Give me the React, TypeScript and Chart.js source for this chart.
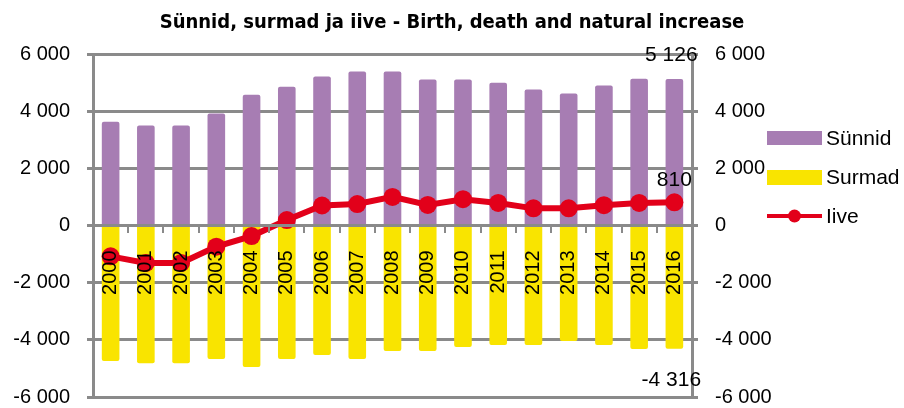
import { useEffect, useRef } from "react";
import { Chart, registerables } from "chart.js";

Chart.register(...registerables);

const years = ["2000", "2001", "2002", "2003", "2004", "2005", "2006", "2007", "2008", "2009", "2010", "2011", "2012", "2013", "2014", "2015", "2016"];
const births = [3630, 3500, 3500, 3920, 4570, 4850, 5210, 5390, 5390, 5110, 5110, 4990, 4760, 4620, 4900, 5130, 5126];
const deaths = [-4740, -4820, -4820, -4670, -4950, -4670, -4530, -4670, -4390, -4390, -4250, -4180, -4180, -4040, -4180, -4320, -4316];
const increase = [-1080, -1310, -1310, -740, -370, 190, 700, 750, 1000, 720, 920, 790, 600, 600, 710, 790, 810];

const seriesNames = ["Sünnid", "Surmad", "Iive"];
const titleText = "Sünnid, surmad ja iive - Birth, death and natural increase";
const axisMin = -6000;
const axisMax = 6000;
const axisStep = 2000;

const PURPLE = "#A77DB3";
const YELLOW = "#F9E400";
const RED = "#E2001A";
const GRID = "#8A8A8A";
const FONT = '"Liberation Sans", Arial, sans-serif';

const fmt = (v: number) => {
  const s = Math.abs(Math.round(v)).toString().replace(/\B(?=(\d{3})+(?!\d))/g, " ");
  return (v < 0 ? "-" : "") + s;
};

const lastLabels = {
  id: "lastLabels",
  afterDatasetsDraw(chart: any) {
    const ctx = chart.ctx;
    const last = years.length - 1;
    const lineEl = chart.getDatasetMeta(0).data[last];
    const bEl = chart.getDatasetMeta(1).data[last];
    const dEl = chart.getDatasetMeta(2).data[last];
    ctx.save();
    ctx.font = "21px " + FONT;
    ctx.fillStyle = "#000";
    ctx.textAlign = "center";
    ctx.textBaseline = "alphabetic";
    ctx.fillText(fmt(births[last]), bEl.x - 3, bEl.y - 18);
    ctx.fillText(fmt(increase[last]), lineEl.x, lineEl.y - 16);
    ctx.fillText(fmt(deaths[last]), dEl.x - 3, dEl.y + 37);
    ctx.restore();
  },
};

const customLegend = {
  id: "customLegend",
  afterDraw(chart: any) {
    const ctx = chart.ctx;
    const x0 = chart.chartArea.right + 75;
    const w = 55;
    const textX = x0 + w + 4;
    ctx.save();
    ctx.font = "21px " + FONT;
    ctx.textAlign = "left";
    ctx.textBaseline = "middle";
    ctx.fillStyle = PURPLE;
    ctx.fillRect(x0, 131, w, 14);
    ctx.fillStyle = "#000";
    ctx.fillText(seriesNames[0], textX, 139);
    ctx.fillStyle = YELLOW;
    ctx.fillRect(x0, 170, w, 15);
    ctx.fillStyle = "#000";
    ctx.fillText(seriesNames[1], textX, 178);
    ctx.strokeStyle = RED;
    ctx.lineWidth = 4;
    ctx.beginPath();
    ctx.moveTo(x0, 216);
    ctx.lineTo(x0 + w, 216);
    ctx.stroke();
    ctx.fillStyle = RED;
    ctx.beginPath();
    ctx.arc(x0 + w / 2, 216, 6.5, 0, Math.PI * 2);
    ctx.fill();
    ctx.fillStyle = "#000";
    ctx.fillText(seriesNames[2], textX, 217);
    ctx.restore();
  },
};

export default function App() {
  const ref = useRef<HTMLCanvasElement | null>(null);

  useEffect(() => {
    document.body.style.margin = "0";
    if (!ref.current) return;
    const chart = new Chart(ref.current, {
      type: "bar",
      data: {
        labels: years,
        datasets: [
          {
            type: "line",
            label: seriesNames[2],
            data: increase,
            yAxisID: "y2",
            borderColor: RED,
            backgroundColor: RED,
            borderWidth: 6,
            pointRadius: 9,
            pointBackgroundColor: RED,
            pointBorderWidth: 0,
            tension: 0,
          } as any,
          {
            type: "bar",
            label: seriesNames[0],
            data: births,
            yAxisID: "y",
            backgroundColor: PURPLE,
            borderRadius: 2,
            categoryPercentage: 0.5,
            barPercentage: 1,
          },
          {
            type: "bar",
            label: seriesNames[1],
            data: deaths,
            yAxisID: "y",
            backgroundColor: YELLOW,
            borderRadius: 2,
            categoryPercentage: 0.5,
            barPercentage: 1,
          },
        ],
      },
      options: {
        animation: false,
        responsive: false,
        maintainAspectRatio: false,
        devicePixelRatio: 1,
        layout: { autoPadding: false, padding: { left: 0, right: 0, top: 0, bottom: 11 } },
        plugins: {
          legend: { display: false },
          tooltip: { enabled: false },
          title: {
            display: true,
            text: titleText,
            color: "#000",
            font: { family: '"Liberation Sans Narrow", "DejaVu Sans Condensed", sans-serif', size: 20, weight: "bold" },
            padding: { top: 11, bottom: 19 },
          },
        },
        scales: {
          x: {
            type: "category",
            stacked: true,
            position: { y: 0 } as any,
            grid: { display: true, drawOnChartArea: false, offset: true, tickLength: 6, color: GRID, lineWidth: 2, z: 2 } as any,
            border: { display: true, color: GRID, width: 3, z: 2 } as any,
            ticks: {
              minRotation: 90,
              maxRotation: 90,
              autoSkip: false,
              padding: 19,
              color: "#000",
              font: { family: FONT, size: 20 },
              z: 3,
            } as any,
            afterFit: (s: any) => {
              s.height = 0;
              s.paddingTop = 0;
              s.paddingBottom = 0;
            },
          },
          y: {
            type: "linear",
            position: "left",
            stacked: true,
            min: axisMin,
            max: axisMax,
            ticks: {
              stepSize: axisStep,
              padding: 17,
              color: "#000",
              font: { family: FONT, size: 20 },
              callback: (v: any) => fmt(Number(v)),
            },
            grid: { color: GRID, lineWidth: 3, tickLength: 6 },
            border: { display: true, color: GRID, width: 3 },
            afterFit: (s: any) => {
              s.width = 93;
              s.paddingTop = 0;
              s.paddingBottom = 0;
            },
          },
          y2: {
            type: "linear",
            position: "right",
            min: axisMin,
            max: axisMax,
            ticks: {
              stepSize: axisStep,
              padding: 17,
              color: "#000",
              font: { family: FONT, size: 20 },
              callback: (v: any) => fmt(Number(v)),
            },
            grid: { drawOnChartArea: false, color: GRID, lineWidth: 3, tickLength: 6 },
            border: { display: true, color: GRID, width: 3 },
            afterFit: (s: any) => {
              s.width = 212;
              s.paddingTop = 0;
              s.paddingBottom = 0;
            },
          },
        },
      },
      plugins: [lastLabels, customLegend],
    });
    return () => chart.destroy();
  }, []);

  return (
    <div style={{ width: 904, height: 408 }}>
      <canvas ref={ref} width={904} height={408} />
    </div>
  );
}
